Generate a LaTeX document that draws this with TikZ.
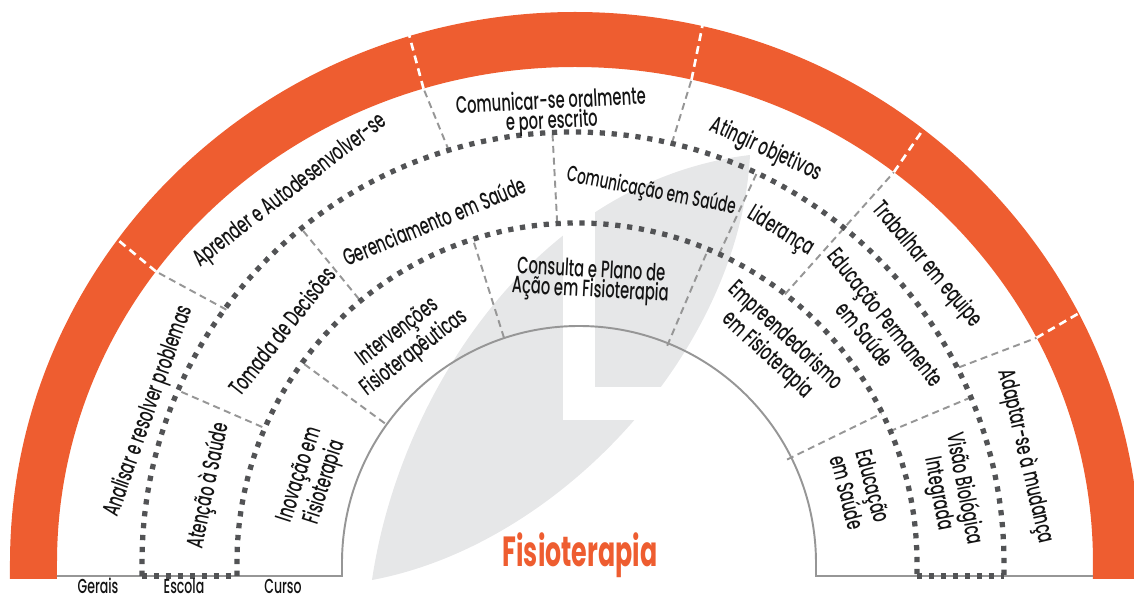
\documentclass[tikz,border=0pt]{standalone}
\usepackage{fontspec}
\setmainfont{Poppins}[UprightFont=* Medium,FakeStretch=0.62]
\newfontfamily\titlefont{Poppins}[FakeStretch=0.6]

\definecolor{accent}{RGB}{238,93,48}
\definecolor{leafgray}{RGB}{230,231,232}
\definecolor{ringgray}{RGB}{82,83,85}
\definecolor{divgray}{RGB}{150,150,150}
\definecolor{inkgray}{RGB}{20,20,20}

\begin{document}
\begin{tikzpicture}[x=0.02cm,y=0.02cm,
   lbl/.style={align=center,inner sep=0pt,text=inkgray,font=\fontsize{13.5}{11.3}\selectfont},
   legend/.style={anchor=base,inner sep=0pt,text=inkgray,font=\fontsize{11.5}{12}\selectfont},
   ring/.style={draw=ringgray,line width=3pt,dash pattern=on 3pt off 3.8pt},
   divider/.style={draw=divgray,line width=1.1pt,dash pattern=on 4pt off 2.6pt},
   cut/.style={draw=white,line width=1.5pt,dash pattern=on 4.5pt off 3pt},
   rim/.style={draw=divgray,line width=1.1pt}]

   \useasboundingbox (-575,-36) rectangle (559,563);

   % leaf in the background
   \fill[leafgray] (-203,-17) .. controls (-175,173) and (-35,383) .. (175,408)
                              .. controls (165,213) and (-15,18) .. (-203,-17);
   \fill[white] (-12,143) rectangle (20,420);
   \fill[white] (-12,143) rectangle (200,176);

   % dividers
   \foreach \a/\r in {144/431, 107/431, 77/431, 52/341, 27/431}
      \draw[divider] (\a:\r) -- (\a:518 and 496);
   \foreach \a/\r/\R in {156.5/341/431, 129.3/341/431, 93/341/431, 65/341/431, 22.7/341/431,
                         143.7/236/341, 107.5/236/341, 67/236/341, 26/236/341}
      \draw[divider] (\a:\r) -- (\a:\R);

   % orange band
   \fill[accent] (-565,-16) -- (-565,0) arc[start angle=180,end angle=0,x radius=565,y radius=551]
      -- (565,-16) -- (518,-16) -- (518,0) arc[start angle=0,end angle=180,x radius=518,y radius=496]
      -- (-518,-16) -- cycle;
   \foreach \a in {144,107,77,52,27}
      \draw[cut] (\a:518 and 496) -- (\a:568 and 553);

   % base line and inner circle
   \draw[rim] (-518,-13) -- (-233,-13) -- (-233,0) arc[start angle=180,end angle=0,radius=237]
      -- (241,-13) -- (518,-13);

   % dotted rings
   \draw[ring] (-433,-13) -- (-433,0) arc[start angle=180,end angle=0,radius=431] -- (429,-13);
   \draw[ring] (-338,-13) -- (-338,0) arc[start angle=180,end angle=0,radius=340] -- (342,-13);
   \draw[ring] (-433,-13) -- (-338,-13);
   \draw[ring] (342,-13) -- (429,-13);

   % Gerais
   \node[lbl,rotate=70.4] (gerais_1) at (160.4:452) {Analisar e resolver problemas};
   \node[lbl,rotate=37.4] (gerais_2) at (127.4:468) {Aprender e Autodesenvolver-se};
   \node[lbl,rotate=3] (gerais_3) at (93:451) {Comunicar-se oralmente\\e por escrito};
   \node[lbl,rotate=-24.8] (gerais_4) at (65.2:455) {Atingir objetivos};
   \node[lbl,rotate=-49.7] (gerais_5) at (40.3:461) {Trabalhar em equipe};
   \node[lbl,rotate=-76.7] (gerais_6) at (13.3:463) {Adaptar-se à mudança};

   % Escola
   \node[lbl,rotate=78.1] (escola_1) at (168.1:374) {Atenção à Saúde};
   \node[lbl,rotate=51.7] (escola_2) at (141.7:374) {Tomada de Decisões};
   \node[lbl,rotate=22.4] (escola_3) at (112.4:370) {Gerenciamento em Saúde};
   \node[lbl,rotate=-11.1,font=\fontsize{12.5}{10}\selectfont] (escola_4) at (78.4:379) {Comunicação em Saúde};
   \node[lbl,rotate=-31.6] (escola_5) at (58.2:390) {Liderança};
   \node[lbl,rotate=-51.2] (escola_6) at (38.3:383) {Educação Permanente\\em Saúde};
   \node[lbl,rotate=-79.2] (escola_7) at (10.8:383) {Visão Biológica\\Integrada};

   % Curso
   \node[lbl,rotate=72.2] (curso_1) at (162.2:275) {Inovação em\\Fisioterapia};
   \node[lbl,rotate=37.5] (curso_2) at (127.5:277) {Intervenções\\Fisioterapêuticas};
   \node[lbl,rotate=-3] (curso_3) at (86.8:282) {Consulta e Plano de\\Ação em Fisioterapia};
   \node[lbl,rotate=-42.8] (curso_4) at (47.2:296) {Empreendedorismo\\em Fisioterapia};
   \node[lbl,rotate=-75.5] (curso_5) at (14.5:295) {Educação\\em Saúde};

   % legend under the base line
   \node[legend] (leg_gerais) at (-477,-31) {Gerais};
   \node[legend] (leg_escola) at (-391,-31) {Escola};
   \node[legend] (leg_curso) at (-292,-31) {Curso};

   \node[text=accent,font=\titlefont\bfseries\fontsize{24}{24}\selectfont] (titulo) at (5,8) {Fisioterapia};

\end{tikzpicture}
\end{document}
